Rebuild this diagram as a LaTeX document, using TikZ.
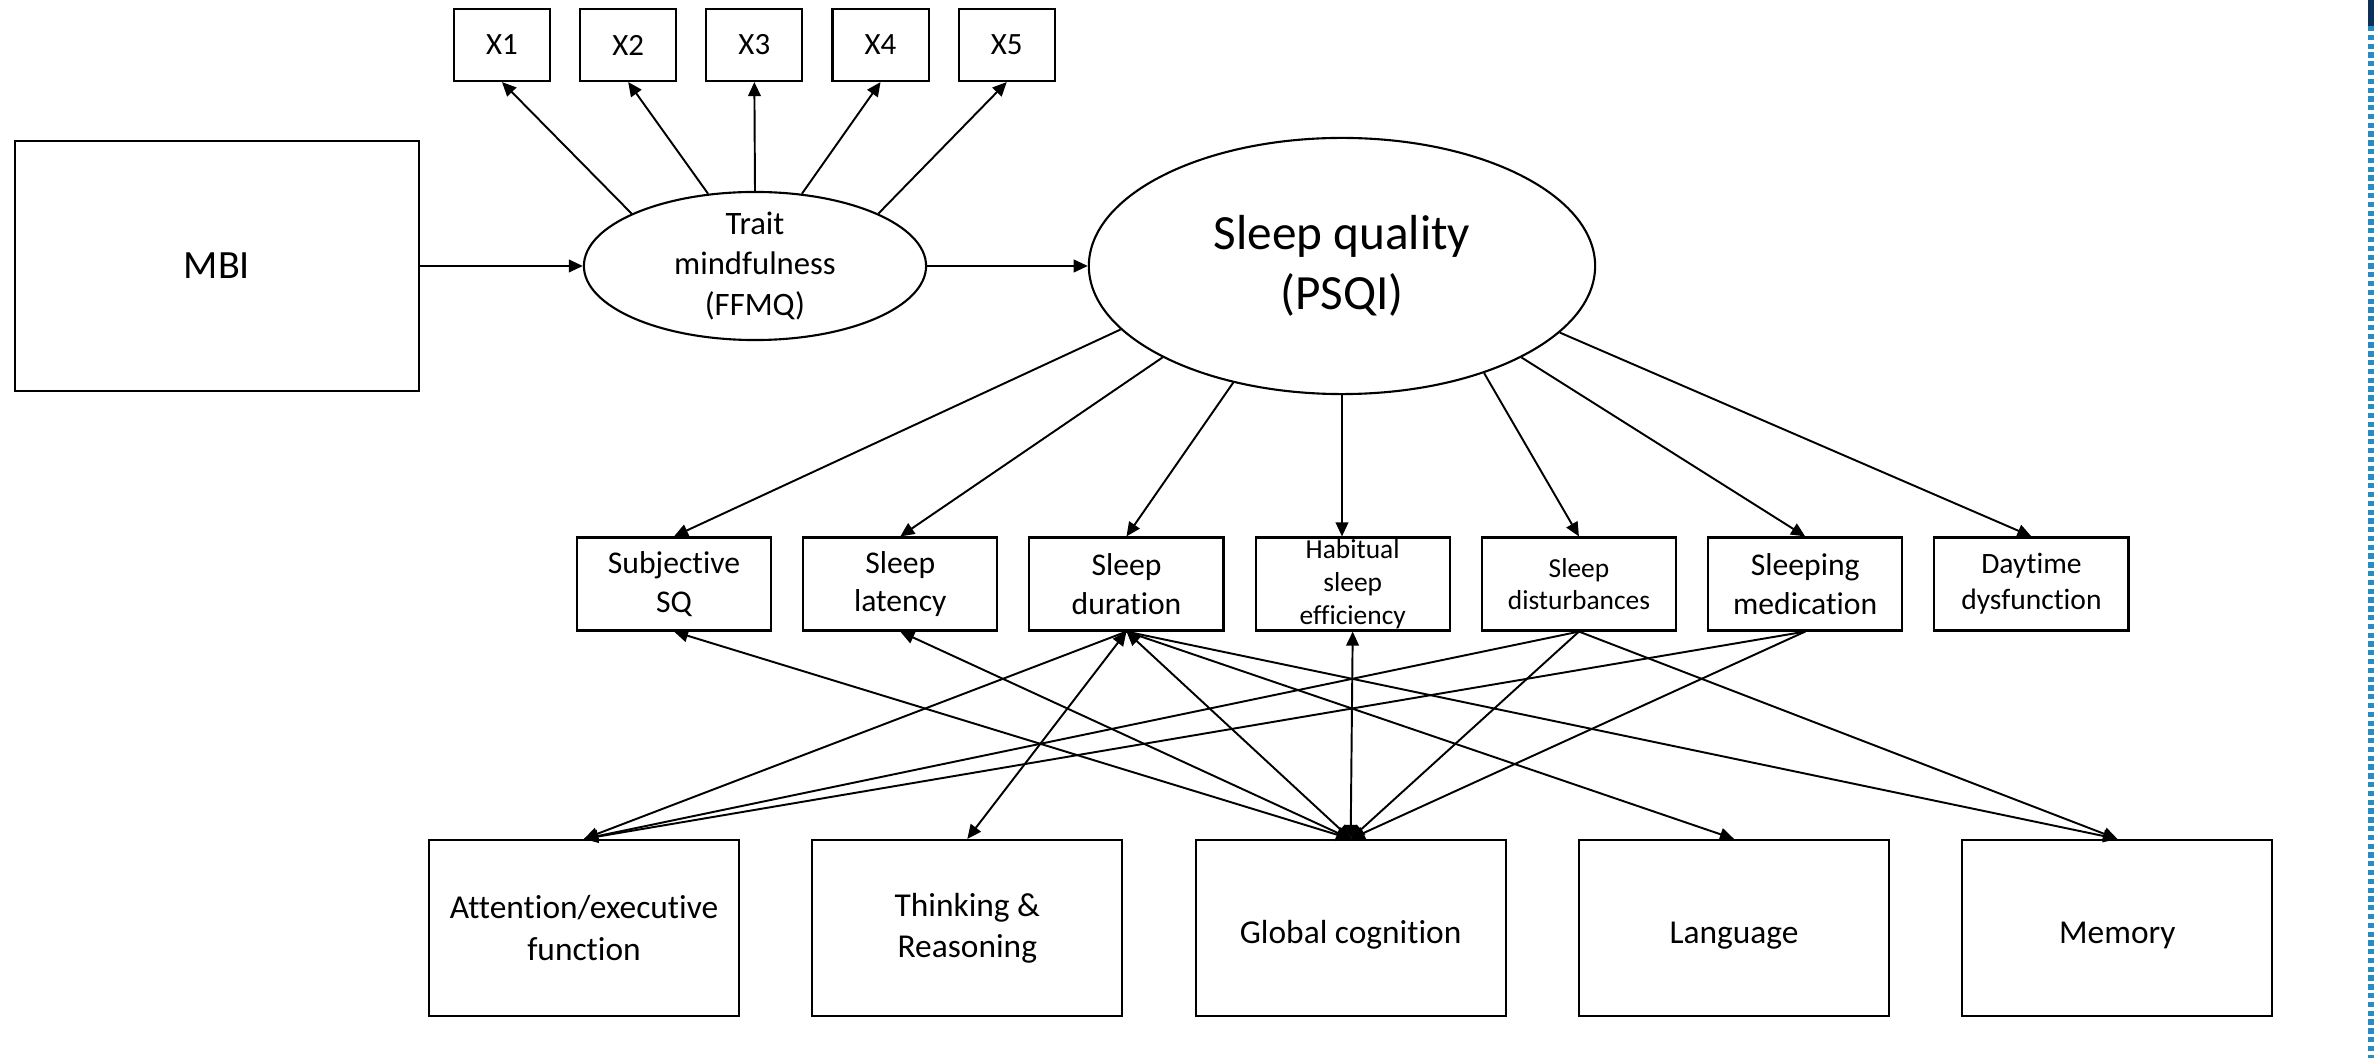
\documentclass[tikz,border=0pt]{standalone}
\usepackage{fontspec}
\setmainfont{Carlito}[Ligatures=NoCommon]
\usetikzlibrary{shapes.geometric,positioning,arrows.meta}
\definecolor{stripblue}{RGB}{40,140,195}
\definecolor{stripnavy}{RGB}{12,48,88}

\begin{document}
\begin{tikzpicture}[
  x=0.01cm, y=-0.01cm,
  every node/.style={font=\fontsize{9}{11}\selectfont},
  box/.style={draw, line width=0.6pt, align=center, inner sep=0pt},
  xbox/.style={box, minimum width=0.96cm, minimum height=0.72cm, font=\fontsize{8.8}{10.5}\selectfont},
  compbox/.style={box, minimum width=1.94cm, minimum height=0.93cm, font=\fontsize{9}{11}\selectfont},
  smallbox/.style={compbox, font=\fontsize{7.8}{9.3}\selectfont},
  cogbox/.style={box, minimum width=3.1cm, minimum height=1.76cm, font=\fontsize{9.5}{11.7}\selectfont},
  onecog/.style={cogbox, text height=1.05em},
  latent/.style={box, ellipse, inner xsep=0pt, inner ysep=-0.2cm},
  arrow/.style={-{Triangle[length=4pt,width=3.6pt]}, line width=0.55pt},
  twoway/.style={{Triangle[length=4pt,width=3.6pt]}-{Triangle[length=4pt,width=3.6pt]}, line width=0.55pt}
]
\useasboundingbox (0,0) rectangle (2374,1058);

% Nodes
\node[box, minimum width=4.04cm, minimum height=2.5cm, font=\fontsize{11.4}{14}\selectfont] (mbi) at (217,266) {MBI};
\node[latent, minimum width=3.42cm, minimum height=1.48cm, font=\fontsize{9.3}{11.4}\selectfont] (trait) at (755,266) {Trait\\mindfulness\\(FFMQ)};
\node[latent, minimum width=5.06cm, minimum height=2.56cm, font=\fontsize{14}{17}\selectfont] (sleep) at (1342,266) {Sleep quality\\(PSQI)};

\node[xbox] (x1) at (502,45) {X1};
\node[xbox, right=0.28cm of x1] (x2) {X2};
\node[xbox, right=0.28cm of x2] (x3) {X3};
\node[xbox, right=0.28cm of x3] (x4) {X4};
\node[xbox, right=0.28cm of x4] (x5) {X5};

\node[compbox] (subj) at (674,584) {Subjective\\SQ};
\node[compbox, right=0.3cm of subj] (lat) {Sleep\\latency};
\node[compbox, right=0.3cm of lat] (dur) {Sleep\\duration};
\node[smallbox, right=0.3cm of dur] (hab) {Habitual\\sleep\\efficiency};
\node[smallbox, right=0.3cm of hab] (dist) {Sleep\\disturbances};
\node[compbox, right=0.3cm of dist] (med) {Sleeping\\medication};
\node[smallbox, right=0.3cm of med, font=\fontsize{8.4}{10.2}\selectfont] (day) {Daytime\\dysfunction};

\node[cogbox] (att) at (584,928) {Attention/executive\\function};
\node[cogbox, right=0.71cm of att] (think) {Thinking \&\\Reasoning};
\node[onecog, right=0.71cm of think] (glob) {Global cognition};
\node[onecog, right=0.71cm of glob] (lang) {Language};
\node[onecog, right=0.71cm of lang] (mem) {Memory};

% Arrows
\draw[arrow] (mbi.east) -- (trait.west);
\draw[arrow] (trait.east) -- (sleep.west);
\foreach \a/\n in {157/x1,123/x2,90/x3,57/x4,23/x5}
  \draw[arrow] (trait.\a) -- (\n.south);

\foreach \a/\n in {196/subj,207/lat,227/dur,323/dist,333/med,343/day}
  \draw[arrow] (sleep.\a) -- (\n.north);
\draw[arrow] (sleep.south) -- (sleep.south |- hab.north);

% Components and cognition
\foreach \n in {subj,lat,dur,hab}
  \draw[twoway] (glob.north) -- (\n.south);
\foreach \n in {dist,med}
  \draw[arrow] (\n.south) -- (glob.north);
\foreach \n in {dur,dist,med}
  \draw[arrow] (\n.south) -- (att.north);
\draw[twoway] (dur.south) -- (think.north);
\draw[arrow] (dur.south) -- (lang.north);
\foreach \n in {dur,dist}
  \draw[arrow] (\n.south) -- (mem.north);

% Edge strip
\fill[stripnavy] (2368,0) rectangle (2374,26);
\draw[stripblue, line width=1.7pt, dash pattern=on 1.5pt off 1pt] (2371,26) -- (2371,1058);
\end{tikzpicture}
\end{document}
